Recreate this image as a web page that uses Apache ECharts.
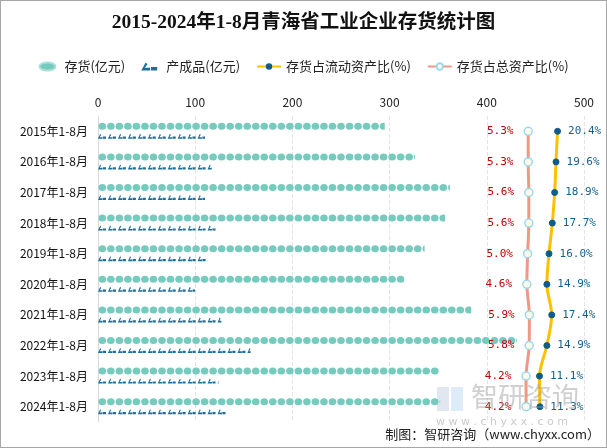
<!DOCTYPE html>
<html><head><meta charset="utf-8">
<script src="https://cdn.jsdelivr.net/npm/echarts@6/dist/echarts.min.js"></script>
<style>
html,body{margin:0;padding:0;background:#fff;}
#c{width:607px;height:448px;box-sizing:border-box;border:1px solid #a6a6a6;}
</style></head><body>
<div id="c"></div>
<script>
var categories = ['2015年1-8月','2016年1-8月','2017年1-8月','2018年1-8月','2019年1-8月','2020年1-8月','2021年1-8月','2022年1-8月','2023年1-8月','2024年1-8月'];
var inventory = [295, 326, 362, 357, 336, 315, 384, 431, 351, 352];
var products = [110, 117, 110, 123, 113, 100, 127, 157, 124, 133];
var currentRatio = [20.4, 19.6, 18.9, 17.7, 16.0, 14.9, 17.4, 14.9, 11.1, 11.3];
var totalRatio = [5.3, 5.3, 5.6, 5.6, 5.0, 4.6, 5.9, 5.8, 4.2, 4.2];
var xTicks = [0, 100, 200, 300, 400, 500];

var chart = echarts.init(document.getElementById('c'), null, {renderer:'canvas'});
var ellipse = 'path://M0,5 A10,5 0 1,1 20,5 A10,5 0 1,1 0,5 Z';
var prodIcon = 'path://M0,9 L5,0 L7,2 L4,6 L10,6 L10,9 Z M11,5 L18,5 L18,9 L11,9 Z';
var labelFont = 'DejaVu Sans Mono, Noto Sans CJK SC, monospace';
chart.setOption({
  animation:false,
  title:{text:'2015-2024年1-8月青海省工业企业存货统计图', left:'center', top:7,
    textStyle:{fontSize:19.5, fontWeight:'bold', color:'#111', fontFamily:'Liberation Serif, Noto Sans CJK SC, serif'}},
  legend:{top:54, left:'center', itemGap:16, itemWidth:24, itemHeight:8,
    textStyle:{fontSize:13, color:'#222', fontFamily:'Noto Sans CJK SC'},
    data:[
      {name:'存货(亿元)', icon:ellipse},
      {name:'产成品(亿元)', icon:prodIcon},
      {name:'存货占流动资产比(%)'},
      {name:'存货占总资产比(%)'}
    ]},
  grid:{left:97, right:22, top:115, height:306},
  xAxis:[{type:'value', position:'top', min:xTicks[0], max:xTicks[xTicks.length-1], interval:100,
    axisLine:{show:false}, axisTick:{show:false},
    axisLabel:{fontSize:12, color:'#222', margin:8, fontFamily:'Noto Sans CJK SC'},
    splitLine:{show:true, lineStyle:{color:'#e4e4e4', type:'dashed'}}},
    {type:'value', min:-216, max:34, show:false, splitLine:{show:false}}],
  yAxis:{type:'category', data:categories, inverse:true,
    axisLine:{show:true, lineStyle:{color:'#d9d9d9'}}, axisTick:{show:false},
    axisLabel:{fontSize:12, color:'#111', margin:10, fontFamily:'Noto Sans CJK SC'}},
  series:[
    {name:'存货(亿元)', type:'pictorialBar', xAxisIndex:0, data:inventory,
      symbol:'circle', symbolSize:[7.6,7], symbolRepeat:true, symbolClip:true, symbolMargin:0,
      symbolOffset:[0,-5], barWidth:8,
      itemStyle:{color:'#76cabe', borderColor:'#a9e0d7', borderWidth:1}},
    {name:'产成品(亿元)', type:'pictorialBar', xAxisIndex:0, data:products,
      symbol:prodIcon, symbolSize:[8,5], symbolRepeat:true, symbolClip:true, symbolMargin:[1,1],
      symbolOffset:[0,5], barWidth:8,
      itemStyle:{color:'#1d6f9b'}},
    {name:'存货占流动资产比(%)', type:'line', xAxisIndex:1, data:currentRatio, smooth:0.3,
      symbol:'circle', symbolSize:6, z:5,
      lineStyle:{color:'#ffc000', width:3, type:'solid'}, itemStyle:{color:'#0f5c89', borderColor:'#0f5c89'},
      label:{show:true, position:'right', distance:7, color:'#155f8c', fontSize:11, fontFamily:labelFont,
        formatter:function(p){return p.value.toFixed(1)+'%';}}},
    {name:'存货占总资产比(%)', type:'line', xAxisIndex:1, data:totalRatio, smooth:0.3,
      symbol:'circle', symbolSize:8, z:4, showAllSymbol:true,
      lineStyle:{color:'#ee9886', width:3, type:'solid'},
      itemStyle:{color:'#fffbe8', borderColor:'#9ad8f0', borderWidth:1.5, borderType:'solid'},
      label:{show:true, position:'left', distance:10, color:'#c00000', fontSize:11, fontFamily:labelFont,
        formatter:function(p){return p.value.toFixed(1)+'%';}}}
  ],
  graphic:[
    {type:'text', left:470, top:382, z:100, silent:true,
      style:{text:'智研咨询', fontSize:27, fill:'rgba(150,150,150,0.45)', fontFamily:'Noto Sans CJK SC'}},
    {type:'rect', left:436, top:386, z:99, silent:true, shape:{width:12, height:24},
      style:{fill:'rgba(170,185,215,0.35)'}},
    {type:'rect', left:450, top:386, z:99, silent:true, shape:{width:12, height:24},
      style:{fill:'rgba(160,200,235,0.35)'}},
    {type:'text', left:435, top:416, z:100, silent:true,
      style:{text:'w w w . c h y x x . c o m', fontSize:11, fill:'rgba(150,150,150,0.5)', fontFamily:'DejaVu Sans'}},
    {type:'text', right:6, bottom:6, z:100,
      style:{text:'制图：智研咨询（www.chyxx.com）', fontSize:13, fill:'#222', fontFamily:'Noto Sans CJK SC'}}
  ]
});
</script>
</body></html>
